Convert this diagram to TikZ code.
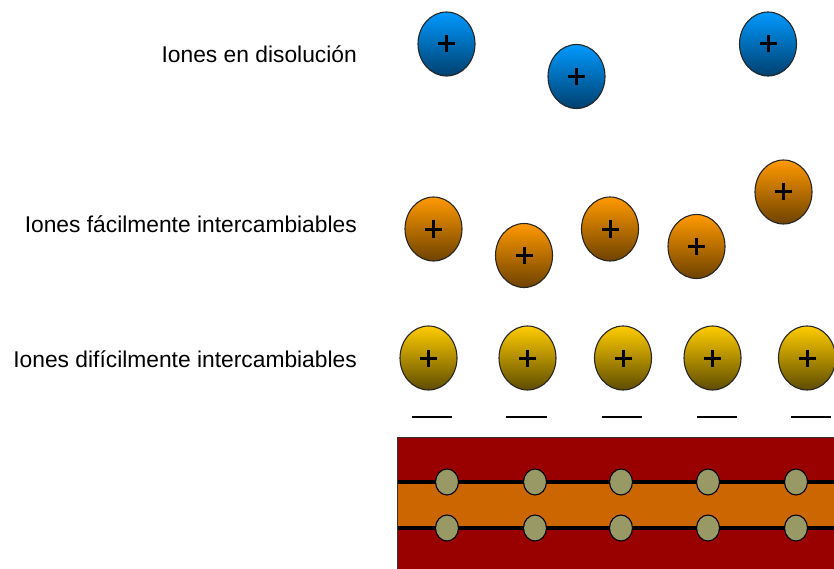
\documentclass[tikz,border=0pt]{standalone}
\usepackage{fontspec}
\setmainfont{Liberation Sans}
\usetikzlibrary{shapes.geometric}
\definecolor{bluetop}{HTML}{0099FF}
\definecolor{bluebot}{HTML}{00406E}
\definecolor{orgtop}{HTML}{FF9900}
\definecolor{orgbot}{HTML}{6E4200}
\definecolor{yeltop}{HTML}{FFCC00}
\definecolor{yelbot}{HTML}{5E4C00}
\definecolor{clayred}{HTML}{990000}
\definecolor{clayorg}{HTML}{CC6600}
\definecolor{claygrn}{HTML}{999966}
\tikzset{
  ion/.style={ellipse, draw=black!85, line width=1.1pt, inner sep=0pt,
    minimum width=57pt, minimum height=64pt,
    path picture={\draw[line width=3pt,black]
      ([xshift=-8.5pt]path picture bounding box.center) -- ([xshift=8.5pt]path picture bounding box.center)
      ([yshift=-8.5pt]path picture bounding box.center) -- ([yshift=8.5pt]path picture bounding box.center);}},
  blueion/.style={ion, top color=bluetop, bottom color=bluebot},
  orgion/.style={ion, top color=orgtop, bottom color=orgbot},
  yelion/.style={ion, top color=yeltop, bottom color=yelbot},
  site/.style={ellipse, draw=black, line width=1.1pt, fill=claygrn, inner sep=0pt,
    minimum width=23pt, minimum height=26pt},
  lbl/.style={anchor=base east, inner sep=0pt, font=\fontsize{22.8}{27}\selectfont},
  negline/.style={line width=1.4pt, black}
}
\begin{document}
\begin{tikzpicture}[x=1pt,y=-1pt]
\useasboundingbox (0,0) rectangle (834,569);
\clip (0,0) rectangle (834,569);
% labels
\node[lbl] (l1) at (357,63) {Iones en disolución};
\node[lbl] (l2) at (357,233) {Iones fácilmente intercambiables};
\node[lbl] (l3) at (357,367) {Iones difícilmente intercambiables};
% ions in solution
\node[blueion] (b1) at (446.5,44) {};
\node[blueion] (b2) at (576.5,76.5) {};
\node[blueion] (b3) at (768,44) {};
% easily exchangeable
\node[orgion] (o1) at (433.5,229) {};
\node[orgion] (o2) at (524,255.5) {};
\node[orgion] (o3) at (610,229) {};
\node[orgion] (o4) at (696.5,246.5) {};
\node[orgion] (o5) at (783.5,192) {};
% hardly exchangeable
\node[yelion] (y1) at (428.5,358) {};
\node[yelion] (y2) at (527.5,358) {};
\node[yelion] (y3) at (623,358) {};
\node[yelion] (y4) at (712.5,358) {};
\node[yelion] (y5) at (807,358) {};
% negative charges
\draw[negline] (412,417) -- (452,417);
\draw[negline] (506,417) -- (547,417);
\draw[negline] (602,417) -- (642,417);
\draw[negline] (697,417) -- (737,417);
\draw[negline] (791,417) -- (831,417);
% clay layer
\fill[clayred] (397.5,437) rectangle (850,580);
\fill[clayorg] (397.5,482) rectangle (850,528);
\draw[black!80, line width=1pt] (850,437) -- (397.5,437) -- (397.5,580);
\coordinate (la) at (397.5,482);
\coordinate (lb) at (850,482);
\coordinate (lc) at (397.5,528);
\coordinate (ld) at (850,528);
\draw[black, line width=3.2pt] (la) -- (lb);
\draw[black, line width=3.2pt] (lc) -- (ld);
\foreach \i/\x in {1/447,2/535,3/621,4/708,5/796}{
  \node[site] (s\i a) at (\x,482) {};
  \node[site] (s\i b) at (\x,528) {};
}
\end{tikzpicture}
\end{document}
